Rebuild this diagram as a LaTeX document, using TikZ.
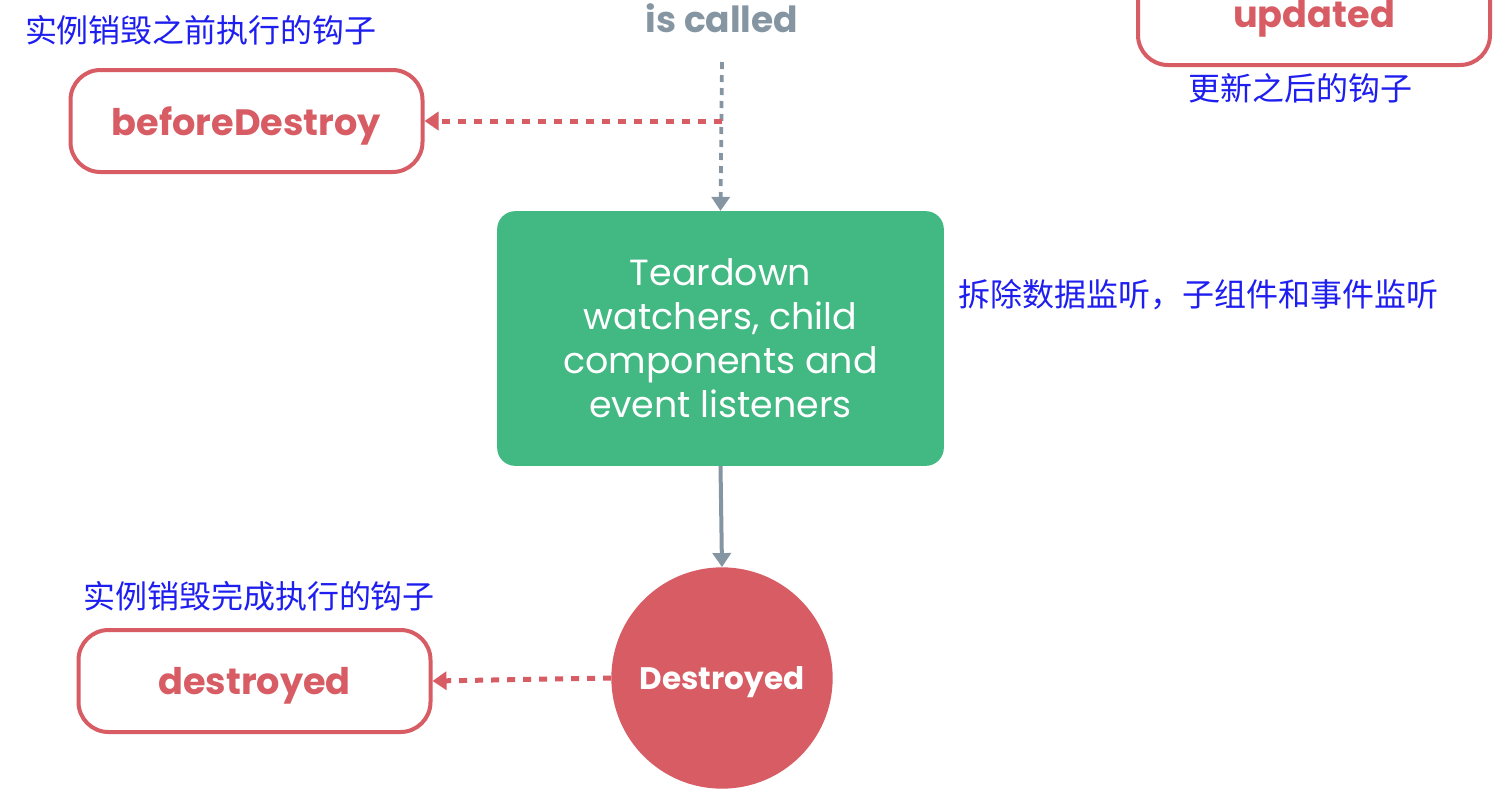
\documentclass[tikz,border=0pt]{standalone}
\usepackage{fontspec}
\setmainfont{Poppins}
\newfontfamily\cjk{Noto Sans CJK SC}
\usetikzlibrary{arrows.meta}
\definecolor{hookred}{HTML}{D75C64}
\definecolor{hookblue}{HTML}{1E1EF0}
\definecolor{flowgray}{HTML}{8596A2}
\definecolor{vuegreen}{HTML}{42B883}
\tikzset{
  hook/.style={draw=hookred, line width=3pt, rounded corners=22.5pt, fill=white,
    minimum width=264pt, minimum height=76.5pt, inner sep=0pt, text depth=0pt,
    text=hookred, font=\fontsize{27.5}{32}\selectfont\bfseries},
  note/.style={text=hookblue, font=\cjk\fontsize{24}{28}\selectfont, inner sep=0pt},
  reddash/.style={draw=hookred, line width=3.75pt, dash pattern=on 6pt off 6pt,
    -{Triangle[width=13.5pt,length=10.5pt]}},
  graydash/.style={draw=flowgray, line width=2.8pt, dash pattern=on 5.25pt off 4.5pt,
    -{Triangle[width=13.5pt,length=10.5pt]}},
  graysolid/.style={draw=flowgray, line width=3pt,
    -{Triangle[width=13.5pt,length=10.5pt]}},
}
\begin{document}
\begin{tikzpicture}[x=0.75pt,y=-0.75pt]
\clip (0,0) rectangle (1510,794);
\fill[white] (0,0) rectangle (1510,794);
% labels
\node[text=flowgray, text depth=0pt, font=\fontsize{27}{31}\selectfont\bfseries] (called) at (722,18) {is called};
\node[note] (n1) at (201,30) {实例销毁之前执行的钩子};
\node[note] (n2) at (1300,88) {更新之后的钩子};
\node[note] (n3) at (1198,295) {拆除数据监听，子组件和事件监听};
\node[note] (n4) at (259,596) {实例销毁完成执行的钩子};
% hook boxes
\node[hook] (bd) at (246.5,121) {beforeDestroy};
\node[hook] (up) at (1314,14) {updated};
\node[hook] (dy) at (254.5,681) {destroyed};
% green box
\node[fill=vuegreen, rounded corners=13.5pt, minimum width=335pt, minimum height=191pt,
  inner sep=0pt, text=white, align=center, font=\fontsize{27.3}{33}\selectfont] (td) at (720.5,338.5)
  {Teardown\\watchers, child\\components and\\event listeners};
% circle
\node[circle, fill=hookred, minimum size=166pt, inner sep=0pt, text=white, text depth=0pt,
  font=\fontsize{23.3}{27}\selectfont\bfseries] (ds) at (722,678) {Destroyed};
% connectors
\coordinate (top) at (722,62);
\coordinate (j1) at (722,121);
\draw[graydash] (top) -- (td.north);
\draw[reddash] (j1) -- (bd.east);
\draw[graysolid] (td.south) -- (ds.north);
\draw[reddash] (ds.west) -- (dy.east);
\end{tikzpicture}
\end{document}
